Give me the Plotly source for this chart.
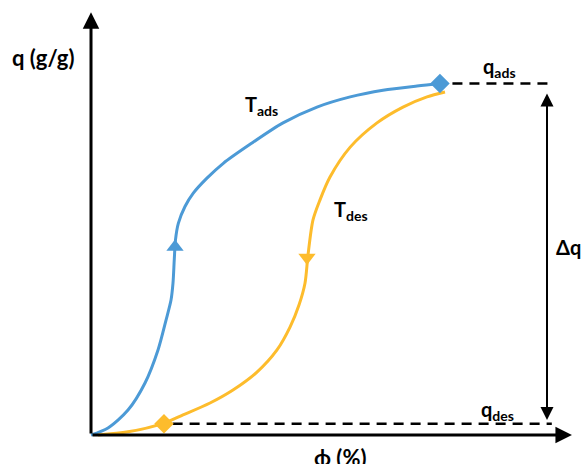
import plotly.graph_objects as go

# ── Data (phi in %, q normalised so q_ads = 1) ──
ads_phi = [0.0, 3.54, 7.71, 11.25, 13.96, 15.63, 16.67, 17.08, 17.35, 17.6,
           18.19, 19.58, 21.31, 24.1, 27.56, 33.13, 40.0, 47.08, 54.0,
           60.83, 67.92, 72.92]
ads_q   = [0.0, 0.020, 0.071, 0.148, 0.242, 0.327, 0.384, 0.432, 0.50, 0.555,
           0.602, 0.650, 0.688, 0.730, 0.773, 0.827, 0.888, 0.933, 0.962,
           0.981, 0.993, 1.0]

des_phi = [1.46, 7.71, 15.21, 19.17, 24.79, 29.58, 34.58, 38.75, 41.46, 43.33,
           44.58, 45.21, 46.25, 47.71, 49.79, 54.0, 59.58, 65.0, 70.0, 73.75]
des_q   = [0.0, 0.009, 0.034, 0.057, 0.091, 0.128, 0.179, 0.242, 0.307, 0.370,
           0.432, 0.512, 0.612, 0.669, 0.734, 0.819, 0.888, 0.933, 0.962, 0.976]

q_ads, q_des = 1.0, 0.032
ads_point  = (72.7, q_ads)
des_point  = (15.2, q_des)
ads_arrow  = (17.5, 0.535)
des_arrow  = (45.0, 0.505)
dash_end   = 96.0
delta_phi  = 95.0
axis_x_end = 100.2
axis_y_end = 1.203

BLUE   = "#4C9AD6"
ORANGE = "#FDBC2C"
FONT   = "Lato"

fig = go.Figure()

# ── Isotherm curves ───────────────────────────────────────────────────────
fig.add_trace(go.Scatter(x=ads_phi, y=ads_q, mode="lines", line_shape="spline",
                         line=dict(color=BLUE, width=3, smoothing=0.8), hoverinfo="skip"))
fig.add_trace(go.Scatter(x=des_phi, y=des_q, mode="lines", line_shape="spline",
                         line=dict(color=ORANGE, width=3, smoothing=0.8), hoverinfo="skip"))

# ── q_ads / q_des reference lines ─────────────────────────────────────────
fig.add_trace(go.Scatter(x=[ads_point[0] + 2.6, dash_end], y=[q_ads, q_ads],
                         mode="lines", line=dict(color="black", width=2.5, dash="10px,7px"),
                         hoverinfo="skip"))
fig.add_trace(go.Scatter(x=[des_point[0] + 1.8, dash_end], y=[q_des, q_des],
                         mode="lines", line=dict(color="black", width=2.5, dash="10px,7px"),
                         hoverinfo="skip"))

# ── Markers: end points and direction arrows ──────────────────────────────
fig.add_trace(go.Scatter(x=[ads_point[0]], y=[ads_point[1]], mode="markers",
                         marker=dict(symbol="diamond", size=15, color=BLUE)))
fig.add_trace(go.Scatter(x=[des_point[0]], y=[des_point[1]], mode="markers",
                         marker=dict(symbol="diamond", size=15, color=ORANGE)))
fig.add_trace(go.Scatter(x=[ads_arrow[0]], y=[ads_arrow[1]], mode="markers",
                         marker=dict(symbol="triangle-up", size=15, color=BLUE)))
fig.add_trace(go.Scatter(x=[des_arrow[0]], y=[des_arrow[1]], mode="markers",
                         marker=dict(symbol="triangle-down", size=15, color=ORANGE)))

# ── Axes drawn as arrows ──────────────────────────────────────────────────
arrow = dict(showarrow=True, arrowhead=2, arrowsize=1.1, arrowwidth=3,
             arrowcolor="black", xref="x", yref="y", axref="x", ayref="y", text="")
fig.add_annotation(x=axis_x_end, y=0, ax=0, ay=0, **arrow)
fig.add_annotation(x=0, y=axis_y_end, ax=0, ay=0, **arrow)
fig.add_annotation(x=delta_phi, y=0.043, ax=delta_phi, ay=0.976,
                   showarrow=True, arrowhead=2, startarrowhead=2, arrowside="end+start",
                   arrowsize=1.3, startarrowsize=1.3, arrowwidth=2, arrowcolor="black",
                   xref="x", yref="y", axref="x", ayref="y", text="")

# ── Labels ────────────────────────────────────────────────────────────────
labels = [
    (-10.0, 1.073, "<b>q (g/g)</b>", 22),
    (51.9, -0.063, "<b>ϕ (%)</b>", 22),
    (35.6, 0.937, "<b>T<sub>ads</sub></b>", 20),
    (54.2, 0.640, "<b>T<sub>des</sub></b>", 20),
    (85.2, 1.045, "<b>q<sub>ads</sub></b>", 20),
    (84.6, 0.070, "<b>q<sub>des</sub></b>", 20),
    (99.4, 0.535, "<b>Δq</b>", 20),
]
for x, y, txt, size in labels:
    fig.add_annotation(x=x, y=y, text=txt, showarrow=False, xref="x", yref="y",
                       font=dict(family=FONT, size=size, color="black"))

fig.update_layout(
    width=586, height=464,
    margin=dict(l=0, r=0, t=0, b=0),
    plot_bgcolor="white", paper_bgcolor="white",
    showlegend=False,
)
fig.update_xaxes(range=[-18.96, 103.125], visible=False)
fig.update_yaxes(range=[-0.0825, 1.2376], visible=False)

fig.write_html("out.html", config={"displayModeBar": False},
               post_script="document.body.style.margin='0';")
